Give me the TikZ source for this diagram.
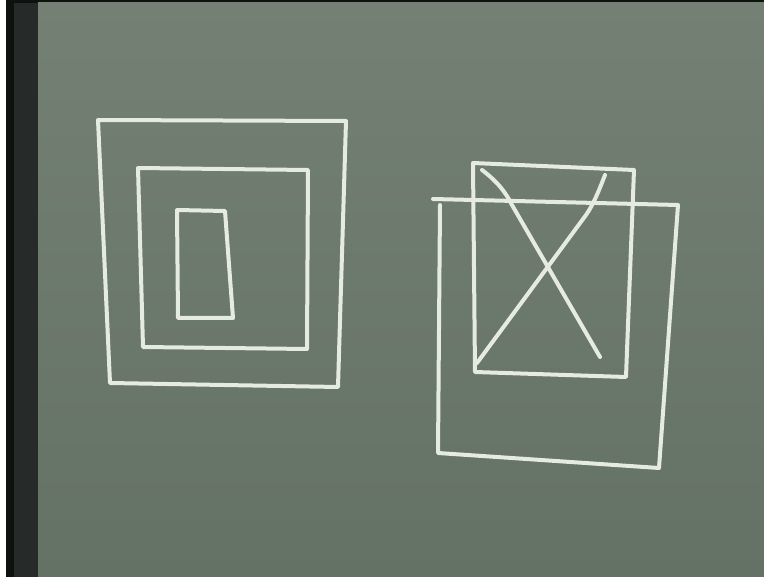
\documentclass[tikz,border=0pt]{standalone}
\begin{document}
\begin{tikzpicture}[x=1pt,y=-1pt,
  chalk/.style={draw=chalkc, line width=4pt, line join=round, line cap=round}]
\definecolor{board}{RGB}{100,113,101}
\definecolor{boardlight}{RGB}{116,128,116}
\definecolor{edge}{RGB}{14,18,14}
\definecolor{edgegray}{RGB}{38,42,40}
\definecolor{chalkc}{RGB}{230,235,224}
\useasboundingbox (0,0) rectangle (764,577);
% frame
\fill[white] (0,0) rectangle (764,577);
\fill[edge] (6,0) rectangle (764,577);
\fill[edgegray] (14,3) rectangle (38,577);
\shade[top color=boardlight, bottom color=board] (38,3) rectangle (764,577);
% left figure: nested rectangles
\draw[chalk] (98,120) -- (346,121) -- (338,387) -- (110,383) -- cycle;
\draw[chalk] (138,168) -- (308,170) -- (307,349) -- (143,347) -- cycle;
\draw[chalk] (177,210) -- (225,211) -- (233,318) -- (178,318) -- cycle;
% right figure: back rectangle with X
\draw[chalk] (473,163) -- (634,170) -- (626,377) -- (475,372) -- cycle;
\draw[chalk] (482,170) .. controls (498,182) and (506,193) .. (512,205) -- (600,357);
\draw[chalk] (605,175) .. controls (598,193) and (593,205) .. (586,215) -- (477,363);
% front rectangle
\draw[chalk] (433,199) -- (678,205) -- (659,468) -- (438,453) -- (440,205);
\end{tikzpicture}
\end{document}
